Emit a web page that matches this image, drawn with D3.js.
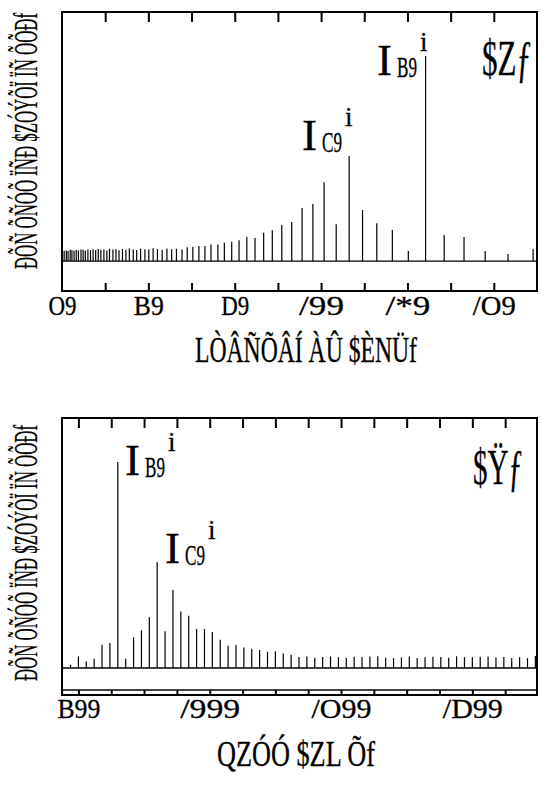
<!DOCTYPE html>
<html>
<head>
<meta charset="utf-8">
<script src="https://cdn.jsdelivr.net/npm/d3@7"></script>
<style>
  body { margin: 0; background: #fff; }
  text { font-family: "Liberation Serif", "DejaVu Serif", serif; fill: #000; stroke: #000; stroke-width: 0.3; }
</style>
</head>
<body>
<svg id="chart" width="547" height="786"></svg>
<script>
// top panel: peak positions (x units) and heights (% of tallest)
const freqPeaks = [149.1, 143.3, 138.0, 133.1, 128.5, 124.2, 120.2, 116.5, 112.9, 109.6,
  106.5, 103.5, 100.7, 98.1, 95.6, 93.2, 90.9, 88.7, 86.7, 84.7,
  82.8, 81.0, 79.3, 77.6, 76.1, 74.5, 73.1, 71.7, 70.3, 69.0,
  67.8, 66.5, 65.4, 64.3, 63.2, 62.1, 61.1, 60.1, 59.2, 58.2,
  57.3, 56.5, 55.6, 54.8, 54.0, 53.2, 52.5, 51.8, 51.0, 50.4,
  49.7, 49.0, 48.4, 47.8, 47.2, 46.6, 46.0, 45.4, 44.9, 44.4,
  43.8, 43.3, 42.8, 42.3, 41.9, 41.4, 41.0, 40.5, 40.1];
const freqInt = [5.9, 3.4, 4.9, 11.7, 12.7, 100, 4.9, 15.1, 18.5, 24.9,
  51.2, 18.0, 38.5, 27.8, 25.9, 19.0, 17.6, 15.0, 13.8, 11.2,
  11.7, 10.2, 9.4, 8.9, 8.1, 8.1, 7.3, 7.3, 7.0, 6.7,
  5.7, 6.0, 5.8, 6.1, 5.5, 5.9, 6.2, 5.6, 5.8, 6.0,
  5.4, 5.7, 6.1, 5.5, 5.9, 5.3, 5.8, 5.6, 6.0, 5.2,
  5.7, 5.5, 5.9, 5.4, 5.8, 5.3, 5.6, 5.1, 5.5, 5.7,
  5.2, 5.4, 5.0, 5.3, 5.5, 4.9, 5.2, 5.0, 4.8];
const freqTicks = [40, 60, 80, 100, 120, 140];
const freqTickLabels = ["O9", "B9", "D9", "/99", "/*9", "/O9"];

// bottom panel
const massPeaks = [576, 600, 624, 648, 672, 696, 720, 744, 768, 792,
  816, 840, 864, 888, 912, 936, 960, 984, 1008, 1032,
  1056, 1080, 1104, 1128, 1152, 1176, 1200, 1224, 1248, 1272,
  1296, 1320, 1344, 1368, 1392, 1416, 1440, 1464, 1488, 1512,
  1536, 1560, 1584, 1608, 1632, 1656, 1680, 1704, 1728, 1752,
  1776, 1800, 1824, 1848, 1872, 1896, 1920, 1944, 1968, 1992];
const massInt = [1.6, 5.6, 3.2, 4.5, 11.3, 12.1, 100, 4.5, 14.9, 18.3,
  24.6, 51.3, 17.8, 38.0, 27.5, 25.4, 18.9, 18.9, 17.5, 13.7,
  10.8, 11.2, 10.0, 9.4, 8.7, 7.9, 8.1, 7.1, 6.5, 5.3,
  5.6, 5.0, 5.4, 5.6, 5.2, 4.9, 5.5, 5.3, 5.6, 5.7,
  5.0, 4.8, 5.1, 5.6, 4.9, 5.2, 5.5, 5.4, 5.0, 5.7,
  5.3, 5.2, 5.5, 5.6, 5.1, 5.4, 4.9, 5.2, 4.8, 5.8];
const massTicks = [600, 1000, 1400, 1800];
const massTickLabels = ["B99", "/999", "/O99", "/D99"];

const yTitle = "ÐÕÑ ÕÑÓÕ ÏÑÐ $ZÓÝÕÏ ÏÑ ÕÕÐf";

const svg = d3.select("#chart");

function fit(sel, len) {
  sel.attr("textLength", len).attr("lengthAdjust", "spacingAndGlyphs");
}

function panel(cfg) {
  const { x, y, peaks, ints, top, bottom } = cfg;
  const left = x.range()[0], right = x.range()[1];
  const g = svg.append("g");

  // baseline
  g.append("line")
    .attr("x1", left).attr("x2", right)
    .attr("y1", y(0)).attr("y2", y(0))
    .attr("stroke", "#000").attr("stroke-width", 1.3);

  g.selectAll(".peak")
    .data(d3.zip(peaks, ints))
    .join("line")
    .attr("class", "peak")
    .attr("x1", d => x(d[0])).attr("x2", d => x(d[0]))
    .attr("y1", y(0)).attr("y2", d => y(d[1]))
    .attr("stroke", "#000").attr("stroke-width", 1.2);

  // minor ticks, top edge
  const tt = g.append("g")
    .attr("transform", `translate(0,${top})`)
    .call(d3.axisTop(x).tickValues(cfg.minor).tickSizeInner(-10).tickSizeOuter(0).tickFormat(""));
  tt.select(".domain").remove();
  tt.selectAll("line").attr("stroke-width", 2);

  const bt = g.append("g")
    .attr("transform", `translate(0,${bottom})`)
    .call(d3.axisBottom(x).tickValues(cfg.minor).tickSizeInner(-cfg.bottomTick).tickSizeOuter(0).tickFormat(""));
  bt.select(".domain").remove();
  bt.selectAll("line").attr("stroke-width", 2);

  if (cfg.ruler) {
    g.append("line")
      .attr("x1", left).attr("x2", right)
      .attr("y1", bottom - cfg.bottomTick).attr("y2", bottom - cfg.bottomTick)
      .attr("stroke", "#000").attr("stroke-width", 1.5);
  }

  // tick labels
  const lab = g.append("g")
    .attr("transform", `translate(0,${bottom})`)
    .call(d3.axisBottom(x).tickValues(cfg.ticks).tickSize(0)
      .tickFormat((d, i) => cfg.tickLabels[i]));
  lab.select(".domain").remove();
  lab.selectAll("text")
    .attr("dy", null).attr("y", cfg.labelOffset)
    .attr("font-size", 27).attr("font-family", null)
    .each(function (d, i) { fit(d3.select(this), cfg.tickWidths[i]); });

  // frame
  g.append("rect")
    .attr("x", left).attr("y", top)
    .attr("width", right - left).attr("height", bottom - top)
    .attr("fill", "none").attr("stroke", "#000").attr("stroke-width", 2);

  // axis titles
  g.append("text")
    .attr("x", cfg.xTitleX).attr("y", cfg.xTitleY)
    .attr("text-anchor", "middle").attr("font-size", 36)
    .call(fit, cfg.xTitleLen)
    .text(cfg.xTitle);

  g.append("text")
    .attr("transform", `translate(37,${cfg.yTitleMid}) rotate(-90)`)
    .attr("text-anchor", "middle").attr("font-size", 33)
    .call(fit, 256)
    .text(yTitle);

  // panel letter
  g.append("text")
    .attr("x", cfg.letterX).attr("y", cfg.letterY)
    .attr("text-anchor", "end").attr("font-size", 50)
    .call(fit, 50)
    .text(cfg.letter);

  // peak annotations
  cfg.notes.forEach(n => {
    const a = g.append("g").attr("transform", `translate(${n.x},${n.y})`);
    a.append("text").attr("font-size", 45).text("I");
    a.append("text").attr("x", 20).attr("y", 2).attr("font-size", 29)
      .call(fit, 20).text(n.sub);
    a.append("text").attr("x", 43).attr("y", -24).attr("font-size", 27).text("i");
  });
}

panel({
  x: d3.scaleLinear().domain([40, 150]).range([62, 537]),
  y: d3.scaleLinear().domain([-14.6, 121.5]).range([291, 12]),
  peaks: freqPeaks, ints: freqInt,
  top: 12, bottom: 291,
  minor: d3.range(50, 150, 10), bottomTick: 8, ruler: false,
  ticks: freqTicks, tickLabels: freqTickLabels, labelOffset: 24,
  tickWidths: [28, 30, 28, 45, 45, 43],
  xTitle: "LÒÂÑÕÂÍ ÀÛ $ÈNÜf", xTitleX: 306, xTitleY: 362, xTitleLen: 222,
  yTitleMid: 141,
  letter: "$Zƒ", letterX: 532, letterY: 75,
  notes: [{ x: 377, y: 75, sub: "B9" }, { x: 302, y: 150, sub: "C9" }]
});

panel({
  x: d3.scaleLinear().domain([550, 1997]).range([62, 537]),
  y: d3.scaleLinear().domain([-13.1, 121.4]).range([695, 418]),
  peaks: massPeaks, ints: massInt,
  top: 418, bottom: 695,
  minor: d3.range(600, 2000, 100), bottomTick: 5, ruler: true,
  ticks: massTicks, tickLabels: massTickLabels, labelOffset: 23,
  tickWidths: [43, 60, 60, 60],
  xTitle: "QZÓÓ $ZL Õf", xTitleX: 296, xTitleY: 766, xTitleLen: 158,
  yTitleMid: 553,
  letter: "$Ÿƒ", letterX: 523, letterY: 484,
  notes: [{ x: 125, y: 475, sub: "B9" }, { x: 165, y: 563, sub: "C9" }]
});
</script>
</body>
</html>
